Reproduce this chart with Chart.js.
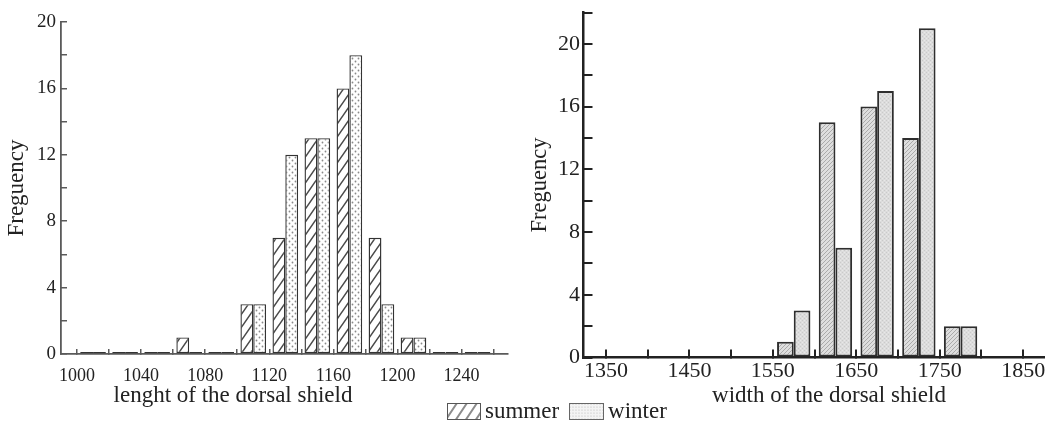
<!DOCTYPE html>
<html>
<head>
<meta charset="utf-8">
<script src="https://cdn.jsdelivr.net/npm/chart.js@4.4.1/dist/chart.umd.min.js"></script>
<style>
  html, body { margin: 0; padding: 0; background: #fff; }
  #wrap { position: relative; width: 1060px; height: 423px; overflow: hidden; background: #fff; }
  #cL { position: absolute; left: 0; top: 0; }
  #cR { position: absolute; left: 530px; top: 0; }
  #legend { position: absolute; left: 447px; top: 401px; display: flex; align-items: center;
            font-family: "Liberation Serif", "Times New Roman", serif; font-size: 23px; color: #222; line-height: 20px; }
  #legend canvas { display: block; }
  #legend span { margin-left: 4px; margin-right: 10px; }
</style>
</head>
<body>
<div id="wrap">
  <canvas id="cL" width="530" height="423"></canvas>
  <canvas id="cR" width="530" height="423"></canvas>
  <div id="legend">
    <canvas id="swS" width="34" height="17"></canvas><span>summer</span>
    <canvas id="swW" width="35" height="17"></canvas><span>winter</span>
  </div>
</div>
<script>
// ---------- data ----------
const lengthBins   = [1010, 1030, 1050, 1070, 1090, 1110, 1130, 1150, 1170, 1190, 1210, 1230, 1250];
const lengthSummer = [0, 0, 0, 1, 0, 3, 7, 13, 16, 7, 1, 0, 0];
const lengthWinter = [0, 0, 0, 0, 0, 3, 12, 13, 18, 3, 1, 0, 0];
const lengthTickValues = [1000, 1020, 1040, 1060, 1080, 1100, 1120, 1140, 1160, 1180, 1200, 1220, 1240, 1260];
const lengthTickLabels = [1000, 1040, 1080, 1120, 1160, 1200, 1240];

const widthBins   = [1575, 1625, 1675, 1725, 1775];
const widthSummer = [1, 15, 16, 14, 2];
const widthWinter = [3, 7, 17, 21, 2];
const widthTickValues = [1350, 1400, 1450, 1500, 1550, 1600, 1650, 1700, 1750, 1800, 1850];
const widthTickLabels = [1350, 1450, 1550, 1650, 1750, 1850];

const seriesNames = ['summer', 'winter'];
const yTitle = 'Freguency';
const lengthTitle = 'lenght of the dorsal shield';
const widthTitle = 'width of the dorsal shield';

// ---------- styles ----------
const FONT = "'Liberation Serif', 'Times New Roman', serif";
Chart.defaults.font.family = FONT;
Chart.defaults.color = '#222';

function makeTile(w, h, paint) {
  const c = document.createElement('canvas');
  c.width = w; c.height = h;
  paint(c.getContext('2d'), w, h);
  return c;
}
function hatchTile(bg, fg, w, h, lw) {
  return makeTile(w, h, (g) => {
    g.fillStyle = bg; g.fillRect(0, 0, w, h);
    g.strokeStyle = fg; g.lineWidth = lw; g.lineCap = 'butt';
    g.beginPath();
    for (const k of [-1, 0, 1]) { g.moveTo(-w + k * w, 2 * h); g.lineTo(2 * w + k * w, -h); }
    g.stroke();
  });
}
function dotTile(bg, fg, w, h, r, pts) {
  return makeTile(w, h, (g) => {
    g.fillStyle = bg; g.fillRect(0, 0, w, h);
    g.fillStyle = fg;
    for (const [x, y] of pts) { g.beginPath(); g.arc(x, y, r, 0, Math.PI * 2); g.fill(); }
  });
}
function gridTile(bg, fg, w, h) {
  return makeTile(w, h, (g) => {
    g.fillStyle = bg; g.fillRect(0, 0, w, h);
    g.fillStyle = fg;
    g.fillRect(0, 0, 1, 1); g.fillRect(2, 2, 1, 1);
    g.fillStyle = 'rgba(255,255,255,0.35)';
    g.fillRect(0, 2, 1, 1); g.fillRect(2, 0, 1, 1);
  });
}

const ctxL = document.getElementById('cL').getContext('2d');
const ctxR = document.getElementById('cR').getContext('2d');

const patL_summer = ctxL.createPattern(hatchTile('#ffffff', '#4a4a4a', 9, 13, 1.5), 'repeat');
const patL_winter = ctxL.createPattern(dotTile('#ffffff', '#8a8a8a', 6, 6, 0.9, [[1.5, 1.5], [4.5, 4.5]]), 'repeat');
const patR_summer = ctxR.createPattern(hatchTile('#dedede', '#a4a4a4', 4, 4, 0.9), 'repeat');
const patR_winter = ctxR.createPattern(gridTile('#dcdcdc', '#cacaca', 4, 4), 'repeat');

// x-axis title drawn under the axis at a given position
const xTitlePlugin = {
  id: 'xTitle',
  afterDraw(chart, args, opts) {
    const ctx = chart.ctx;
    ctx.save();
    ctx.font = opts.size + 'px ' + FONT;
    ctx.fillStyle = '#222';
    ctx.textAlign = 'center';
    ctx.textBaseline = 'alphabetic';
    ctx.fillText(opts.text, opts.x, opts.y);
    ctx.restore();
  }
};

function buildChart(ctx, cfg) {
  const toPts = (vals) => cfg.bins.map((x, i) => ({ x: x, y: vals[i] }));
  return new Chart(ctx, {
    type: 'bar',
    data: {
      datasets: [
        { label: seriesNames[0], data: toPts(cfg.summer), backgroundColor: cfg.pats[0],
          borderColor: cfg.barBorder, borderWidth: cfg.barBorderWidth, borderSkipped: false,
          minBarLength: cfg.minBar, categoryPercentage: cfg.catPct, barPercentage: 1.0 },
        { label: seriesNames[1], data: toPts(cfg.winter), backgroundColor: cfg.pats[1],
          borderColor: cfg.barBorder, borderWidth: cfg.barBorderWidth, borderSkipped: false,
          minBarLength: cfg.minBar, categoryPercentage: cfg.catPct, barPercentage: 1.0 }
      ]
    },
    options: {
      responsive: false,
      animation: false,
      devicePixelRatio: 1,
      layout: { padding: cfg.padding },
      plugins: {
        legend: { display: false },
        tooltip: { enabled: false },
        xTitle: { text: cfg.xTitle, x: cfg.xTitleX, y: cfg.xTitleY, size: cfg.xTitleSize }
      },
      scales: {
        x: {
          type: 'linear', min: cfg.xMin, max: cfg.xMax, offset: false,
          afterBuildTicks: (s) => { s.ticks = cfg.tickValues.map(v => ({ value: v })); },
          afterFit: (s) => { s.height = cfg.xHeight; s.paddingLeft = 0; s.paddingRight = 0; },
          ticks: {
            autoSkip: false, maxRotation: 0, minRotation: 0,
            callback: (v) => cfg.tickLabels.includes(v) ? String(v) : '',
            font: { size: cfg.tickSize, lineHeight: 1 }, color: '#222', padding: cfg.xPad
          },
          grid: { drawOnChartArea: false, offset: false, tickLength: cfg.xTickLen, color: cfg.axisColor, lineWidth: cfg.tickWidth },
          border: { color: cfg.axisColor, width: cfg.axisWidth }
        },
        y: {
          min: 0, max: cfg.yMax,
          afterFit: (s) => { s.width = cfg.yWidth; s.paddingTop = 0; s.paddingBottom = 0; },
          ticks: {
            stepSize: 2,
            callback: (v) => (v % 4 === 0 ? String(v) : ''),
            font: { size: cfg.yTickSize, lineHeight: 1 }, color: '#222', padding: cfg.yPad
          },
          grid: { drawOnChartArea: false, tickLength: cfg.yTickLen, color: cfg.axisColor, lineWidth: cfg.tickWidth },
          border: { color: cfg.axisColor, width: cfg.axisWidth },
          title: { display: true, text: yTitle, color: '#222',
                   font: { size: cfg.yTitleSize, lineHeight: cfg.yTitleLH }, padding: { top: cfg.yTitlePad, bottom: 0 } }
        }
      }
    },
    plugins: [xTitlePlugin]
  });
}

buildChart(ctxL, {
  bins: lengthBins, summer: lengthSummer, winter: lengthWinter,
  tickValues: lengthTickValues, tickLabels: lengthTickLabels,
  pats: [patL_summer, patL_winter], barBorder: '#333', barBorderWidth: 1.4, minBar: 2, catPct: 0.8,
  padding: { left: 0, right: 22, top: 22, bottom: 0 },
  xMin: 990, xMax: 1269, xHeight: 69, yWidth: 61, yMax: 20,
  tickSize: 18, yTickSize: 19, xPad: 18, yPad: 11, xTickLen: -5, yTickLen: -6,
  axisColor: '#5a5a5a', axisWidth: 1.8, tickWidth: 1.5,
  yTitleSize: 23, yTitleLH: 1, yTitlePad: 5,
  xTitle: lengthTitle, xTitleX: 233, xTitleY: 402, xTitleSize: 23
});

buildChart(ctxR, {
  bins: widthBins, summer: widthSummer, winter: widthWinter,
  tickValues: widthTickValues, tickLabels: widthTickLabels,
  pats: [patR_summer, patR_winter], barBorder: '#2e2e2e', barBorderWidth: 2, minBar: 0, catPct: 0.8,
  padding: { left: 0, right: 16, top: 12.5, bottom: 0 },
  xMin: 1323, xMax: 1875, xHeight: 65.5, yWidth: 53.5, yMax: 22,
  tickSize: 22, yTickSize: 22, xPad: 11, yPad: 12.5, xTickLen: -8, yTickLen: -9,
  axisColor: '#222', axisWidth: 2.5, tickWidth: 2,
  yTitleSize: 22.5, yTitleLH: 0.9, yTitlePad: 0,
  xTitle: widthTitle, xTitleX: 299, xTitleY: 402, xTitleSize: 23
});

// legend swatches
(function () {
  const s = document.getElementById('swS').getContext('2d');
  s.fillStyle = s.createPattern(hatchTile('#ffffff', '#8c8c8c', 10, 15, 2), 'repeat');
  s.fillRect(0, 0, 34, 17);
  s.strokeStyle = '#555'; s.lineWidth = 1; s.strokeRect(0.5, 0.5, 33, 16);
  const w = document.getElementById('swW').getContext('2d');
  w.fillStyle = w.createPattern(dotTile('#f4f4f4', '#b4b4b4', 3, 3, 0.6, [[1, 1]]), 'repeat');
  w.fillRect(0, 0, 35, 17);
  w.strokeStyle = '#666'; w.lineWidth = 1; w.strokeRect(0.5, 0.5, 34, 16);
})();
</script>
</body>
</html>
